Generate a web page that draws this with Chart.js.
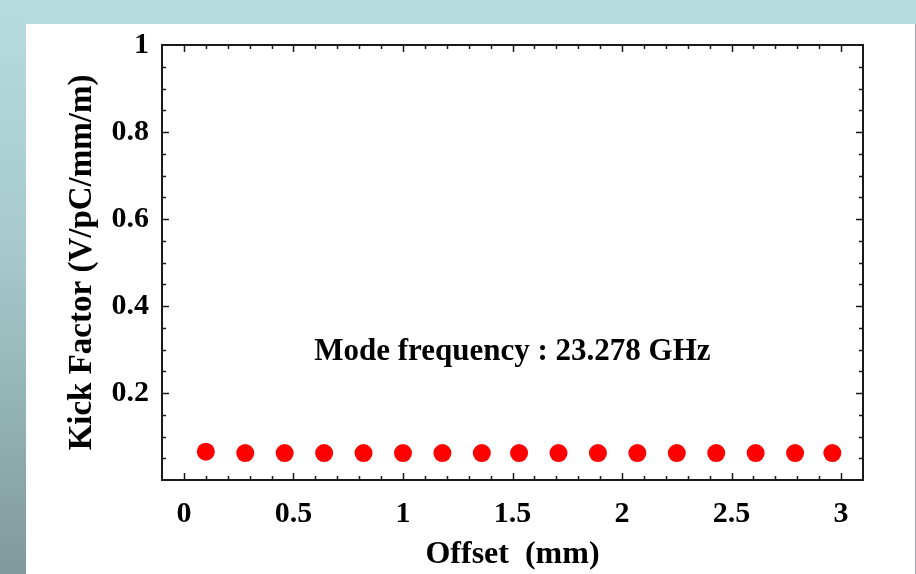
<!DOCTYPE html>
<html>
<head>
<meta charset="utf-8">
<script src="https://cdn.jsdelivr.net/npm/chart.js@4/dist/chart.umd.min.js"></script>
<style>
    html, body { margin: 0; padding: 0; background: #fff; }
    #page { position: relative; width: 916px; height: 574px; overflow: hidden; background: #fff; }
    #band { position: absolute; left: 0; top: 0; width: 916px; height: 24px; background: #b7dcdf; }
    #strip { position: absolute; left: 0; top: 0; width: 26px; height: 574px;
             background: linear-gradient(to bottom, #b7dcdf 0%, #a6c8ca 45%, #7f9a9b 100%); }
    #edge { position: absolute; left: 915px; top: 24px; width: 1px; height: 550px; background: #9aa7a8; }
    #wrap { position: absolute; left: 0; top: 0; width: 916px; height: 574px; }
</style>
</head>
<body>
<div id="page">
    <div id="band"></div>
    <div id="strip"></div>
    <div id="edge"></div>
    <div id="wrap"><canvas id="kick-chart"></canvas></div>
</div>
<script>
// data
const offsetMm = [0.10, 0.28, 0.46, 0.64, 0.82, 1.00, 1.18, 1.36, 1.53, 1.71, 1.89, 2.07, 2.25, 2.43, 2.61, 2.79, 2.96];
const kickFactor = [0.065, 0.062, 0.062, 0.062, 0.062, 0.062, 0.062, 0.062, 0.062, 0.062, 0.062, 0.062, 0.062, 0.062, 0.062, 0.062, 0.062];
const xTickLabels = [0, 0.5, 1, 1.5, 2, 2.5, 3];
const yTickLabels = [0.2, 0.4, 0.6, 0.8, 1];
const noteText = 'Mode frequency : 23.278 GHz';
const noteAt = [0.595, 0.294];

const serif = '"Liberation Serif", "DejaVu Serif", serif';

// inward ticks on all four sides plus the frame
const framePlugin = {
    id: 'frame',
    afterDraw(chart) {
        const { ctx, chartArea: a, scales: { x, y } } = chart;
        ctx.save();
        ctx.strokeStyle = '#1a1a1a';
        ctx.lineWidth = 1.5;
        for (let i = -1; i <= 31; i++) {
            const v = i / 10;
            const px = Math.round(x.getPixelForValue(v)) + 0.5;
            if (px <= a.left + 1 || px >= a.right - 1) continue;
            const len = i % 5 === 0 ? 7 : 4;
            ctx.beginPath();
            ctx.moveTo(px, a.bottom); ctx.lineTo(px, a.bottom - len);
            ctx.moveTo(px, a.top); ctx.lineTo(px, a.top + len);
            ctx.stroke();
        }
        for (let i = 0; i <= 20; i++) {
            const v = i / 20;
            const py = Math.round(y.getPixelForValue(v)) + 0.5;
            if (py <= a.top + 1 || py >= a.bottom - 1) continue;
            const len = i % 4 === 0 ? 7 : 4;
            ctx.beginPath();
            ctx.moveTo(a.left, py); ctx.lineTo(a.left + len, py);
            ctx.moveTo(a.right, py); ctx.lineTo(a.right - len, py);
            ctx.stroke();
        }
        ctx.lineWidth = 2;
        ctx.strokeRect(a.left, a.top, a.right - a.left, a.bottom - a.top);

        // annotation
        ctx.fillStyle = '#000';
        ctx.font = 'bold 31px ' + serif;
        ctx.textAlign = 'left';
        ctx.textBaseline = 'middle';
        ctx.fillText(noteText, x.getPixelForValue(noteAt[0]), y.getPixelForValue(noteAt[1]));
        ctx.restore();
    }
};

new Chart(document.getElementById('kick-chart'), {
    type: 'scatter',
    data: {
        datasets: [{
            label: 'Kick factor',
            data: offsetMm.map((v, i) => ({ x: v, y: kickFactor[i] })),
            backgroundColor: '#ff0000',
            borderColor: '#ff0000',
            pointRadius: 9,
            pointBorderWidth: 0,
            pointHoverRadius: 9
        }]
    },
    options: {
        responsive: true,
        maintainAspectRatio: false,
        animation: false,
        layout: {
            padding: { top: 45, right: 53, left: 0, bottom: 0 }
        },
        plugins: {
            legend: { display: false },
            tooltip: { enabled: false }
        },
        scales: {
            x: {
                type: 'linear',
                min: -0.1,
                max: 3.1,
                afterBuildTicks: (scale) => {
                    scale.ticks = xTickLabels.map(v => ({ value: v }));
                },
                afterFit: (scale) => { scale.height = 94; },
                grid: { display: false, drawTicks: false },
                border: { display: false },
                ticks: {
                    color: '#000',
                    padding: 16,
                    maxRotation: 0,
                    font: { family: serif, size: 30, weight: 'bold' },
                    callback: (v) => String(v)
                },
                title: {
                    display: true,
                    text: 'Offset  (mm)',
                    color: '#000',
                    padding: { top: 0, bottom: 0 },
                    font: { family: serif, size: 32, weight: 'bold' }
                }
            },
            y: {
                type: 'linear',
                min: 0,
                max: 1,
                afterBuildTicks: (scale) => {
                    scale.ticks = yTickLabels.map(v => ({ value: v }));
                },
                afterFit: (scale) => { scale.width = 162; },
                grid: { display: false, drawTicks: false },
                border: { display: false },
                ticks: {
                    color: '#000',
                    padding: 13,
                    font: { family: serif, size: 30, weight: 'bold' },
                    callback: (v) => String(v)
                },
                title: {
                    display: true,
                    text: 'Kick Factor (V/pC/mm/m)',
                    color: '#000',
                    padding: { top: 63, bottom: 0 },
                    font: { family: serif, size: 33, weight: 'bold' }
                }
            }
        }
    },
    plugins: [framePlugin]
});
</script>
</body>
</html>
